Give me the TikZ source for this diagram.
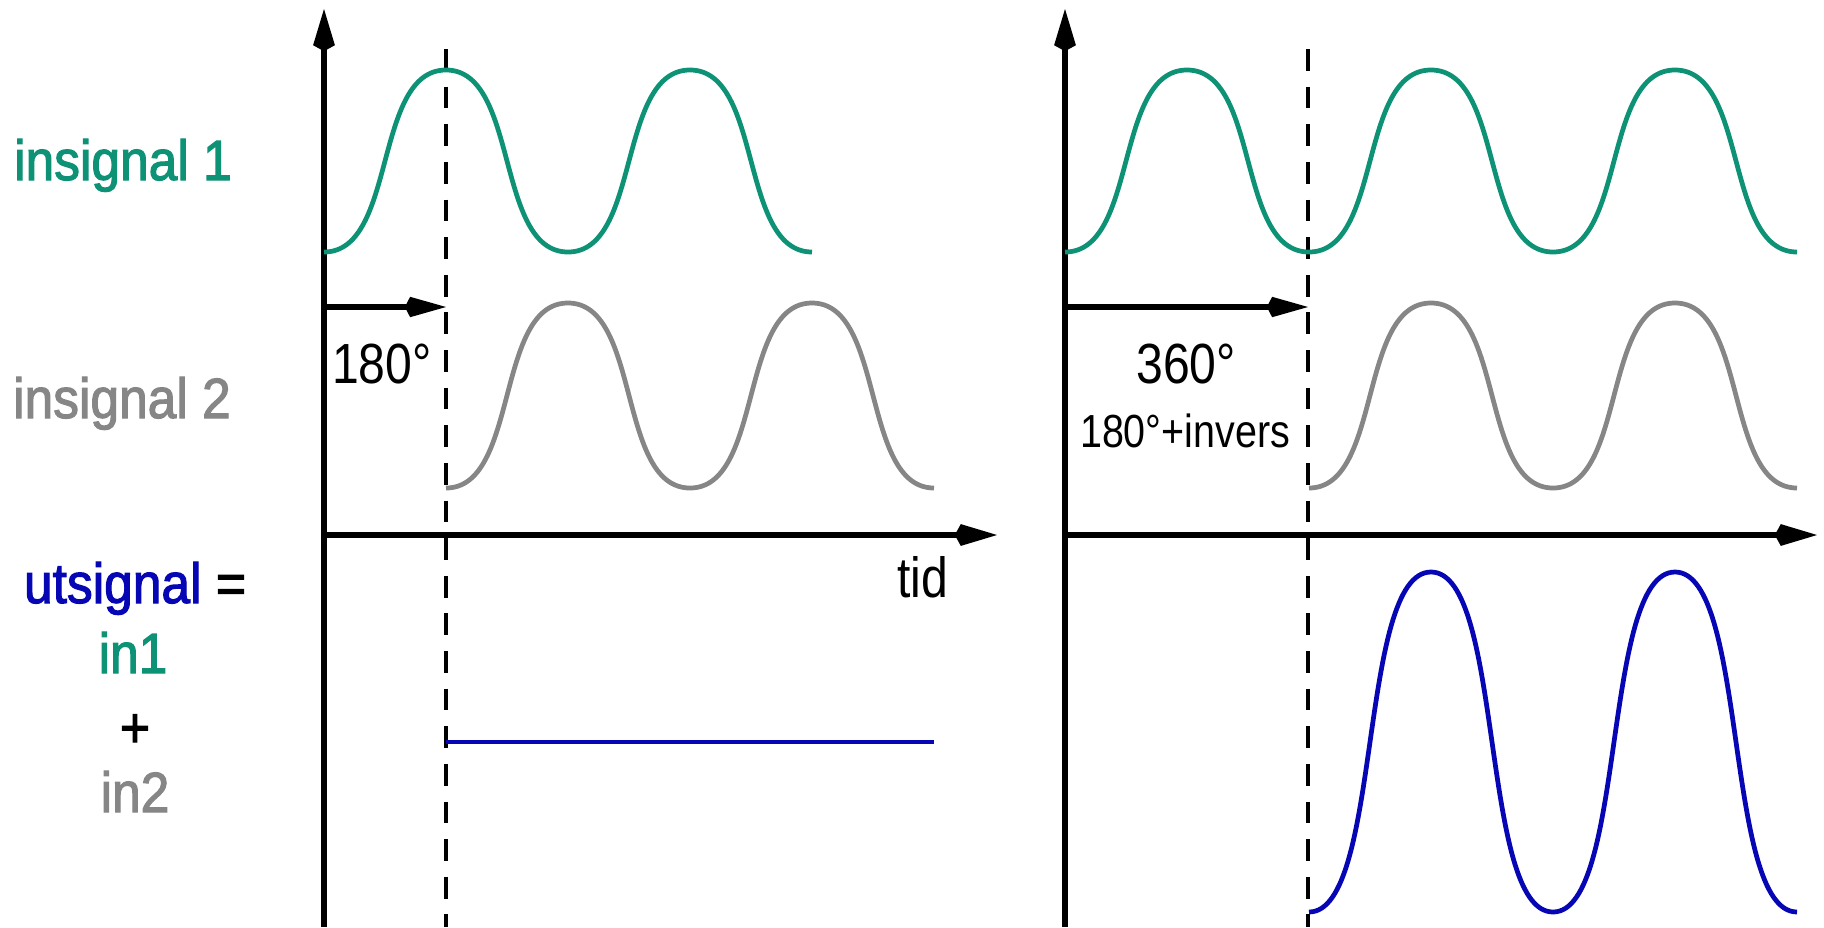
\documentclass[tikz,border=0pt]{standalone}
\usepackage{fontspec}
\setmainfont{Liberation Sans}[FakeStretch=0.85]
\newfontfamily\namefont{Liberation Sans}[FakeStretch=0.91, FakeBold=2]
\definecolor{sigone}{RGB}{14,146,118}
\definecolor{sigtwo}{RGB}{134,134,134}
\definecolor{sigout}{RGB}{6,6,180}
\usetikzlibrary{arrows.meta}

\begin{document}
\begin{tikzpicture}[x=0.01cm, y=-0.01cm,
    axisarrow/.style={line width=1.6pt, -{Kite[length=12pt, width=6.2pt, inset=1.7pt]}},
    phasearrow/.style={line width=1.6pt, -{Kite[length=11.7pt, width=5.8pt, inset=1.5pt]}},
    wavestyle/.style={line width=1.35pt},
    dashline/.style={line width=0.95pt, dash pattern=on 6.2pt off 4.5pt},
    biglbl/.style={font=\fontsize{16.1}{19}\selectfont, anchor=base, inner sep=0pt},
    namelbl/.style={font=\namefont\fontsize{16.1}{19}\selectfont, anchor=base, inner sep=0pt},
    smalllbl/.style={font=\fontsize{13.2}{16}\selectfont, anchor=base, inner sep=0pt}]
  \useasboundingbox (0,0) rectangle (1824,927);

  % left panel: 180 degrees
  \coordinate (lbot) at (324,927);
  \coordinate (ltop) at (324,9);
  \coordinate (lorig) at (324,535);
  \coordinate (ltime) at (997,535);
  \coordinate (ldtop) at (446,49);
  \coordinate (ldbot) at (446,927);
  \coordinate (lph0) at (324,307);
  \coordinate (lph1) at (446,307);
  \draw[dashline] (ldtop) -- (ldbot);
  \draw[axisarrow] (lbot) -- (ltop);
  \draw[axisarrow] (lorig) -- (ltime);
  \draw[phasearrow] (lph0) -- (lph1);
  \draw[wavestyle, sigone] (324,252) \foreach \c in {0,1} {
    .. controls ({324+244*\c+73.2},252) and ({324+244*\c+48.8},70) .. ({324+244*\c+122},70)
    .. controls ({324+244*\c+195.2},70) and ({324+244*\c+170.8},252) .. ({324+244*\c+244},252) };
  \draw[wavestyle, sigtwo] (446,488) \foreach \c in {0,1} {
    .. controls ({446+244*\c+73.2},488) and ({446+244*\c+48.8},303) .. ({446+244*\c+122},303)
    .. controls ({446+244*\c+195.2},303) and ({446+244*\c+170.8},488) .. ({446+244*\c+244},488) };
  \coordinate (lout0) at (446,742);
  \coordinate (lout1) at (934,742);
  \draw[wavestyle, sigout] (lout0) -- (lout1);
  \node[biglbl] (ldeg) at (382,383) {180°};
  \node[biglbl] (tid) at (923,597) {tid};

  % right panel: 360 degrees
  \coordinate (rbot) at (1065,927);
  \coordinate (rtop) at (1065,9);
  \coordinate (rorig) at (1065,535);
  \coordinate (rtime) at (1817,535);
  \coordinate (rdtop) at (1308,49);
  \coordinate (rdbot) at (1308,927);
  \coordinate (rph0) at (1065,307);
  \coordinate (rph1) at (1308,307);
  \draw[dashline] (rdtop) -- (rdbot);
  \draw[axisarrow] (rbot) -- (rtop);
  \draw[axisarrow] (rorig) -- (rtime);
  \draw[phasearrow] (rph0) -- (rph1);
  \draw[wavestyle, sigone] (1065,252) \foreach \c in {0,1,2} {
    .. controls ({1065+244*\c+73.2},252) and ({1065+244*\c+48.8},70) .. ({1065+244*\c+122},70)
    .. controls ({1065+244*\c+195.2},70) and ({1065+244*\c+170.8},252) .. ({1065+244*\c+244},252) };
  \draw[wavestyle, sigtwo] (1309,488) \foreach \c in {0,1} {
    .. controls ({1309+244*\c+73.2},488) and ({1309+244*\c+48.8},303) .. ({1309+244*\c+122},303)
    .. controls ({1309+244*\c+195.2},303) and ({1309+244*\c+170.8},488) .. ({1309+244*\c+244},488) };
  \draw[wavestyle, sigout] (1309,912) \foreach \c in {0,1} {
    .. controls ({1309+244*\c+73.2},912) and ({1309+244*\c+48.8},572) .. ({1309+244*\c+122},572)
    .. controls ({1309+244*\c+195.2},572) and ({1309+244*\c+170.8},912) .. ({1309+244*\c+244},912) };
  \node[biglbl] (rdeg) at (1186,383) {360°};
  \node[smalllbl] (rinv) at (1185,447) {180°+invers};

  % signal names
  \node[namelbl, text=sigone] (in1name) at (123,180) {insignal 1};
  \node[namelbl, text=sigtwo] (in2name) at (122,418) {insignal 2};
  \node[namelbl] (outname) at (135,603) {\textcolor{sigout}{utsignal} =};
  \node[namelbl, text=sigone] (sumone) at (133,673) {in1};
  \node[namelbl] (sumplus) at (135,747) {+};
  \node[namelbl, text=sigtwo] (sumtwo) at (135,812) {in2};
\end{tikzpicture}
\end{document}
